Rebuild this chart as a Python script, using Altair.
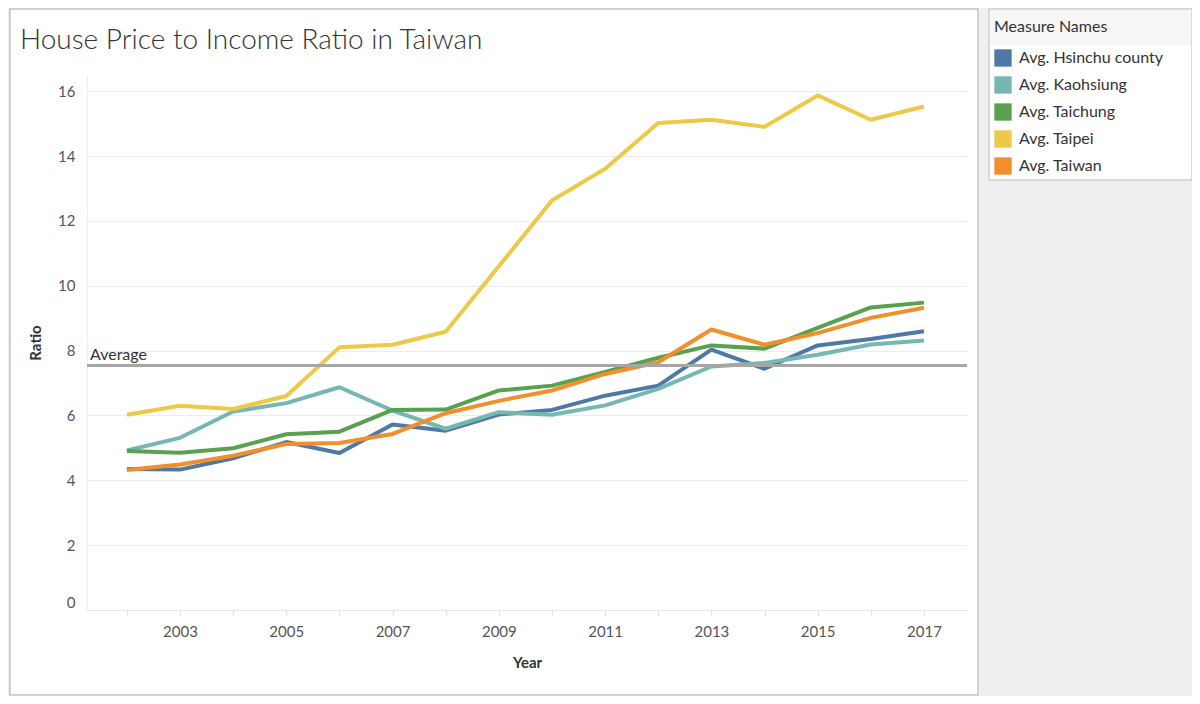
import altair as alt
import pandas as pd

years = list(range(2002, 2018))
series_names = ["Avg. Hsinchu county", "Avg. Kaohsiung", "Avg. Taichung", "Avg. Taipei", "Avg. Taiwan"]
hsinchu = [4.35, 4.33, 4.68, 5.18, 4.84, 5.72, 5.53, 6.03, 6.17, 6.61, 6.92, 8.03, 7.44, 8.16, 8.36, 8.60]
kaohsiung = [4.92, 5.31, 6.12, 6.38, 6.87, 6.15, 5.59, 6.10, 6.02, 6.31, 6.82, 7.51, 7.62, 7.87, 8.19, 8.31]
taichung = [4.90, 4.85, 4.99, 5.42, 5.50, 6.17, 6.18, 6.77, 6.92, 7.34, 7.78, 8.16, 8.06, 8.70, 9.33, 9.48]
taipei = [6.02, 6.30, 6.20, 6.60, 8.10, 8.18, 8.58, 10.60, 12.63, 13.61, 15.02, 15.12, 14.90, 15.87, 15.12, 15.53]
taiwan = [4.32, 4.49, 4.76, 5.12, 5.15, 5.43, 6.07, 6.45, 6.77, 7.28, 7.64, 8.65, 8.18, 8.54, 9.01, 9.32]
colors = ["#4e79a7", "#76b7b2", "#59a14f", "#edc948", "#f28e2b"]
y_ticks = [0, 2, 4, 6, 8, 10, 12, 14, 16]

rows = []
for name, vals in zip(series_names, [hsinchu, kaohsiung, taichung, taipei, taiwan]):
    for yr, v in zip(years, vals):
        rows.append({"Year": yr, "Measure": name, "Ratio": v})
df = pd.DataFrame(rows)

FONT = "Lato"
W, H = 880, 535

x_scale = alt.Scale(domain=[2001.25, 2017.81], nice=False, zero=False)
y_scale = alt.Scale(domain=[0, 16.5], nice=False)

dummy = pd.DataFrame({"a": [0]})


def rect(x1, x2, y1, y2, **kw):
    return alt.Chart(dummy).mark_rect(**kw).encode(
        x=alt.value(x1), x2=alt.value(x2), y=alt.value(y1), y2=alt.value(y2)
    )


gray = "#efefef"
bg_right = rect(892, 1120, -67, 630, color=gray)
bg_left = rect(-79, -77, -67, 630, color=gray)
bg_bottom = rect(-79, 1120, 621, 630, color=gray)
bg_top = rect(-79, 1120, -67, -66, color=gray)
pane = rect(-77, 891, -66, 620, filled=False, stroke="#c4c4c4", strokeWidth=1.5)
legend_box = rect(902, 1105, -66, 105, fill="white", stroke="#cfcfcf", strokeWidth=1.5)
legend_head = rect(903, 1104, -65, -30, fill="#f7f7f7")

x_enc = alt.X(
    "Year:Q",
    scale=x_scale,
    axis=alt.Axis(
        values=years,
        labelExpr="datum.value % 2 == 1 ? format(datum.value, 'd') : ''",
        title="Year",
        grid=False,
        domainColor="#e4e4e4",
        tickColor="#e0e0e0",
        tickSize=5,
        labelPadding=9,
        labelFontSize=15,
        labelColor="#555555",
        labelFont=FONT,
        titleFont=FONT,
        titleFontSize=15,
        titleFontWeight="bold",
        titleColor="#333333",
        titlePadding=16,
    ),
)
y_enc = alt.Y(
    "Ratio:Q",
    scale=y_scale,
    axis=alt.Axis(
        values=y_ticks,
        title="Ratio",
        ticks=False,
        domainColor="#efefef",
        gridColor="#ececec",
        labelPadding=12,
        labelFlush=True,
        labelFontSize=15,
        labelColor="#555555",
        labelFont=FONT,
        titleFont=FONT,
        titleFontSize=15,
        titleFontWeight="bold",
        titleColor="#333333",
        titlePadding=14,
    ),
)

lines = alt.Chart(df).mark_line(strokeWidth=4, strokeJoin="round").encode(
    x=x_enc,
    y=y_enc,
    color=alt.Color("Measure:N", scale=alt.Scale(domain=series_names, range=colors), legend=None),
)

legend_pts = alt.Chart(df).mark_point(shape="square", filled=True, size=0, opacity=1).encode(
    x=x_enc,
    y=y_enc,
    fill=alt.Fill(
        "Measure:N",
        scale=alt.Scale(range=colors),
        sort=series_names,
        legend=alt.Legend(
            title="Measure Names",
            orient="none",
            legendX=907,
            legendY=-56,
            titleFont=FONT,
            titleFontSize=16,
            titleFontWeight="normal",
            titleColor="#333333",
            titlePadding=14,
            labelFont=FONT,
            labelFontSize=16,
            labelColor="#333333",
            labelOffset=7,
            symbolType="square",
            symbolSize=300,
            symbolStrokeWidth=0,
            symbolOpacity=1,
            rowPadding=9,
            padding=0,
        ),
    ),
)

avg_rule = alt.Chart(df).transform_aggregate(avg="mean(Ratio)").mark_rule(
    color="#a6a6a6", strokeWidth=3
).encode(y=alt.Y("avg:Q", scale=y_scale))

avg_text = alt.Chart(df).transform_aggregate(avg="mean(Ratio)").mark_text(
    text="Average", align="left", baseline="alphabetic", dx=0, dy=-6,
    font=FONT, fontSize=16, color="#333333"
).encode(x=alt.value(3), y=alt.Y("avg:Q", scale=y_scale))

title = alt.Chart(dummy).mark_text(
    text="House Price to Income Ratio in Taiwan", align="left", baseline="alphabetic",
    font=FONT, fontSize=28, fontWeight=300, color="#333333"
).encode(x=alt.value(-67), y=alt.value(-26))

chart = alt.layer(
    bg_right, bg_left, bg_bottom, bg_top, pane, legend_box, legend_head,
    lines, legend_pts, avg_rule, avg_text, title
).properties(
    width=W, height=H, autosize="none",
    padding={"left": 79, "top": 67, "right": 225, "bottom": 86},
    background="white",
).configure_view(stroke=None)

chart.save("out.html", embed_options={"renderer": "svg", "actions": False})
